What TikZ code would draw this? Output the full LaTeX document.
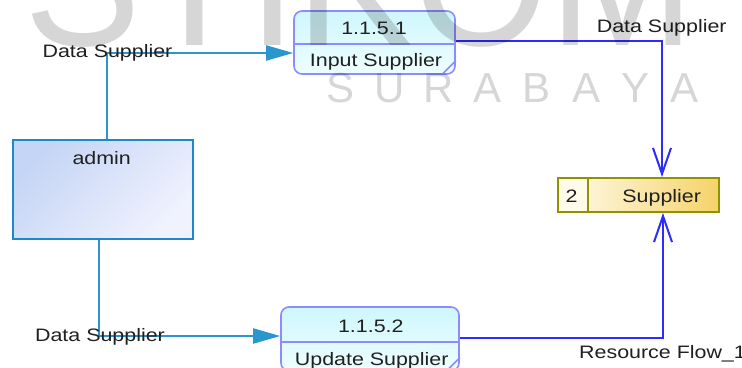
\documentclass[tikz,border=0pt]{standalone}
\usepackage{fontspec}
\setmainfont{Liberation Sans}[FakeStretch=1.19]
\newfontfamily\wmfont{Liberation Sans}
\usetikzlibrary{arrows.meta}
\definecolor{txtc}{HTML}{202020}
\definecolor{lblue}{HTML}{2A96CE}
\definecolor{dblue}{HTML}{2C2CFF}
\definecolor{procb}{HTML}{8C8CFF}
\definecolor{proct}{HTML}{CFF7FC}
\definecolor{procbt}{HTML}{EEFEFF}
\definecolor{entb}{HTML}{1E88C8}
\definecolor{entA}{HTML}{C5D5F5}
\definecolor{entB}{HTML}{F0F2FE}
\definecolor{stb}{HTML}{929200}
\definecolor{stA}{HTML}{FFFBEE}
\definecolor{stB}{HTML}{F5D36A}
\definecolor{stn}{HTML}{FFFAEA}
\begin{document}
\begin{tikzpicture}[x=1pt,y=-1pt,
  every node/.style={font=\fontsize{18}{20}\selectfont, text=txtc},
  txt/.style={inner sep=0pt, text height=13pt, text depth=0pt},
  proc/.style={draw=procb, line width=1.6pt, rounded corners=8pt, top color=proct, bottom color=procbt, inner sep=0pt, minimum width=161pt, minimum height=63pt},
  procline/.style={draw=procb, line width=1.6pt},
  ent/.style={draw=entb, line width=2pt, top color=entA, bottom color=entB, shading angle=45, inner sep=0pt, minimum width=180pt, minimum height=99pt},
  store/.style={draw=stb, line width=2pt, left color=stA, right color=stB, inner sep=0pt, minimum width=161pt, minimum height=34pt},
  stnum/.style={draw=stb, line width=2pt, fill=stn, inner sep=0pt, minimum width=30pt, minimum height=34pt},
  cl/.style={draw=lblue, line width=2pt, -{Triangle[length=27pt,width=15pt]}},
  cr/.style={draw=dblue, line width=2pt, -{Straight Barb[length=26pt,width=18pt]}},
  wm/.style={text=black, text opacity=0.16, inner sep=0pt, anchor=base},
  wmbig/.style={wm, font=\wmfont\fontsize{190}{190}\selectfont},
  wmsmall/.style={wm, font=\wmfont\fontsize{42}{42}\selectfont}
]
\useasboundingbox (0,0) rectangle (742,367);
\clip (0,0) rectangle (742,367);
\fill[white] (0,0) rectangle (742,367);

% external entity
\node[ent] (admin) at (103,189.5) {};
\node[txt] (admintxt) at (101.7,157.8) {admin};

% process 1.1.5.1
\node[proc] (p1) at (374.5,42.5) {};
\draw[procline] ([yshift=-1.5pt]p1.west) -- ([yshift=-1.5pt]p1.east);
\draw[procline] ([xshift=-14pt]p1.south east) -- ([yshift=14pt]p1.south east);
\node[txt] (p1id) at (374,27.5) {1.1.5.1};
\node[txt] (p1name) at (376,60) {Input Supplier};

% process 1.1.5.2
\node[proc, minimum width=178pt, minimum height=64pt] (p2) at (370,339) {};
\draw[procline] ([yshift=-3pt]p2.west) -- ([yshift=-3pt]p2.east);
\draw[procline] ([xshift=-14pt]p2.south east) -- ([yshift=14pt]p2.south east);
\node[txt] (p2id) at (370.8,325.7) {1.1.5.2};
\node[txt] (p2name) at (371.7,358.7) {Update Supplier};

% data store
\node[store] (st) at (638.5,195) {};
\node[stnum, anchor=west] (stn) at (st.west) {};
\node[txt] (stnt) at (571.7,195.8) {2};
\node[txt] (stname) at (661.7,195.8) {Supplier};

% flows
\draw[cl] ([xshift=4pt]admin.north) |- ([yshift=-10.5pt]p1.west);
\draw[cl] ([xshift=-4pt]admin.south) |- ([yshift=3pt]p2.west);
\draw[cr] ([yshift=1.5pt]p1.east) -| ([xshift=23.5pt]st.north);
\draw[cr] ([yshift=1pt]p2.east) -| ([xshift=24.5pt]st.south);

% flow labels
\node[txt] (l1) at (107.5,51.3) {Data Supplier};
\node[txt] (l2) at (100,335.3) {Data Supplier};
\node[txt] (l3) at (661.7,26.2) {Data Supplier};
\node[txt] (l4) at (662.5,352.3) {Resource Flow\_1};

% watermark
\node[wmbig] (wmtop) at (360,45) {\scalebox{0.92}[1]{STIKOM}};
\node[wmsmall] (wm1) at (341,102) {S};
\node[wmsmall] (wm2) at (390,102) {U};
\node[wmsmall] (wm3) at (439,102) {R};
\node[wmsmall] (wm4) at (488,102) {A};
\node[wmsmall] (wm5) at (537,102) {B};
\node[wmsmall] (wm6) at (587,102) {A};
\node[wmsmall] (wm7) at (636,102) {Y};
\node[wmsmall] (wm8) at (685,102) {A};
\end{tikzpicture}
\end{document}
